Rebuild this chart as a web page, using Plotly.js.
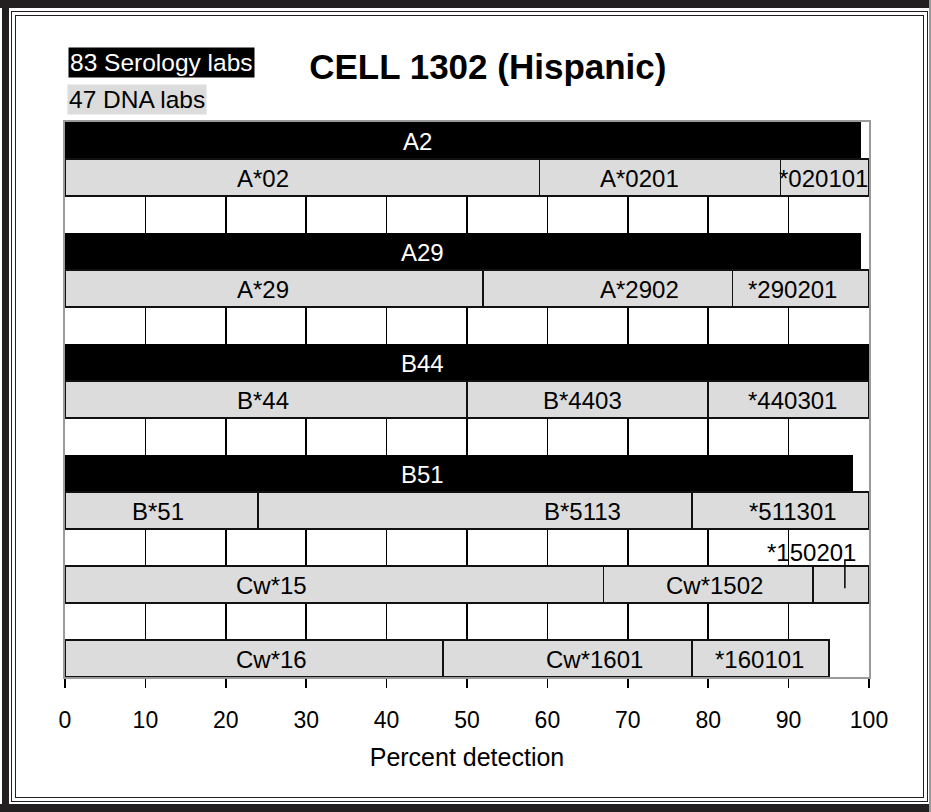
<!DOCTYPE html>
<html>
<head>
<meta charset="utf-8">
<script src="https://cdn.plot.ly/plotly-3.0.1.min.js"></script>
<style>
  html, body { margin: 0; padding: 0; background: #ffffff; }
  #wrap { position: relative; width: 931px; height: 812px; overflow: hidden; background: #ffffff; }
  .band { position: absolute; background: #231f20; }
  .rule { position: absolute; border: 1.5px solid #231f20; box-sizing: border-box; }
  #chart { position: absolute; left: 0; top: 0; width: 931px; height: 812px; }
</style>
</head>
<body>
<div id="wrap">
  <div class="band" style="left:0;top:0;width:931px;height:8px;"></div>
  <div class="band" style="left:2px;top:0;width:7px;height:812px;"></div>
  <div class="band" style="left:0;top:804px;width:931px;height:8px;"></div>
  <div class="band" style="left:929px;top:0;width:2px;height:812px;background:#9a9a9a;"></div>
  <div class="rule" style="left:11px;top:11px;width:917px;height:791px;"></div>
  <div class="rule" style="left:15px;top:15px;width:909px;height:783px;"></div>
  <div id="chart"></div>
</div>
<script>
// Row index on the category axis (top to bottom); gap rows are empty
var serologyRows   = [0, 3, 6, 9];
var serologyNames  = ['A2', 'A29', 'B44', 'B51'];
var serologyValues = [99, 99, 100, 98];          // 83 serology labs, percent detection

var dnaRows        = [1, 4, 7, 10, 12, 14];
var genericNames   = ['A*02', 'A*29', 'B*44', 'B*51', 'Cw*15', 'Cw*16'];
var genericValues  = [59, 52, 50, 24, 67, 47];
var alleleNames    = ['A*0201', 'A*2902', 'B*4403', 'B*5113', 'Cw*1502', 'Cw*1601'];
var alleleValues   = [30, 31, 30, 54, 26, 31];
var subNames       = ['*020101', '*290201', '*440301', '*511301', '*150201', '*160101'];
var subValues      = [11, 17, 20, 22, 7, 17];

var xTicks = [0, 10, 20, 30, 40, 50, 60, 70, 80, 90, 100];

// label placement (text positions along the x axis)
var serologyLabelX = [43.8, 44.5, 44.5, 44.5];
var genericLabelX  = [24.6, 24.6, 24.6, 11.6, 25.7, 25.7];
var alleleLabelX   = [71.5, 71.5, 64.4, 64.4, 80.8, 65.8];
var subLabelX      = [94.3, 90.5, 90.5, 90.5, 92.9, 86.4];

var FONT = 'Liberation Sans, Arial, Helvetica, sans-serif';
var GRAY = '#dcdcdc';
var OUT = '#111111';
var LABEL_SIZE = 24;

var traces = [
  {
    type: 'bar', orientation: 'h', y: serologyRows, x: serologyValues,
    marker: { color: '#000000', line: { width: 0 } },
    text: serologyNames, textposition: 'none', showlegend: false
  },
  {
    type: 'bar', orientation: 'h', y: dnaRows, x: genericValues,
    marker: { color: GRAY, line: { color: OUT, width: 1.6 } },
    text: genericNames, textposition: 'none', showlegend: false
  },
  {
    type: 'bar', orientation: 'h', y: dnaRows, x: alleleValues,
    marker: { color: GRAY, line: { color: OUT, width: 1.6 } },
    text: alleleNames, textposition: 'none', showlegend: false
  },
  {
    type: 'bar', orientation: 'h', y: dnaRows, x: subValues,
    marker: { color: GRAY, line: { color: OUT, width: 1.6 } },
    text: subNames, textposition: 'none', showlegend: false
  }
];

var annotations = [];
function addLabel(txt, x, y, color) {
  annotations.push({
    x: x, y: y, xref: 'x', yref: 'y', text: txt, showarrow: false,
    xanchor: 'center', yanchor: 'middle', yshift: -1,
    font: { family: FONT, size: LABEL_SIZE, color: color }
  });
}
serologyNames.forEach(function (n, i) { addLabel(n, serologyLabelX[i], serologyRows[i], '#ffffff'); });
genericNames.forEach(function (n, i) { addLabel(n, genericLabelX[i], dnaRows[i], '#000000'); });
alleleNames.forEach(function (n, i) { addLabel(n, alleleLabelX[i], dnaRows[i], '#000000'); });
subNames.forEach(function (n, i) {
  if (n === '*150201') {
    // label sits above its narrow segment, with a leader line
    var xEnd = genericValues[i] + alleleValues[i] + subValues[i];
    var xMid = xEnd - 3;
    annotations.push({
      x: subLabelX[i], y: dnaRows[i] - 1, xref: 'x', yref: 'y', text: n, showarrow: false,
      xanchor: 'center', yanchor: 'middle', yshift: -5,
      font: { family: FONT, size: LABEL_SIZE, color: '#000000' }
    });
    annotations.push({
      x: xMid, y: dnaRows[i] + 0.1, xref: 'x', yref: 'y', ax: xMid, ay: dnaRows[i] - 0.72,
      axref: 'x', ayref: 'y', text: '', showarrow: true, arrowhead: 0, arrowwidth: 1.5,
      arrowcolor: '#000000'
    });
  } else {
    addLabel(n, subLabelX[i], dnaRows[i], '#000000');
  }
});

// legend boxes
annotations.push({
  xref: 'paper', yref: 'paper', x: 0.0037, y: 1.136, xanchor: 'left', yanchor: 'top',
  text: '83 Serology labs', showarrow: false, bgcolor: '#000000', borderpad: 1,
  font: { family: FONT, size: 24.5, color: '#ffffff' }
});
annotations.push({
  xref: 'paper', yref: 'paper', x: 0.0025, y: 1.068, xanchor: 'left', yanchor: 'top',
  text: '47 DNA labs', showarrow: false, bgcolor: GRAY, borderpad: 1,
  font: { family: FONT, size: 24.5, color: '#000000' }
});

var layout = {
  width: 931, height: 812,
  margin: { l: 65, r: 62, t: 122, b: 135 },
  paper_bgcolor: 'rgba(0,0,0,0)',
  plot_bgcolor: '#ffffff',
  barmode: 'stack', bargap: 0,
  font: { family: FONT, color: '#000000' },
  title: {
    text: 'CELL 1302 (Hispanic)',
    xref: 'container', yref: 'container', x: 0.524, y: 0.918,
    xanchor: 'center', yanchor: 'middle',
    font: { family: FONT, size: 35, color: '#000000', weight: 'bold' }
  },
  xaxis: {
    range: [0, 100], tickvals: xTicks, ticktext: xTicks.map(String),
    showgrid: true, gridcolor: '#000000', gridwidth: 1.6,
    zeroline: false,
    showline: true, linecolor: '#9a9a9a', linewidth: 2, mirror: true,
    ticks: 'outside', ticklen: 9, tickwidth: 1.6, tickcolor: '#000000',
    tickfont: { family: FONT, size: 23, color: '#000000' },
    ticklabelstandoff: 12,
    layer: 'below traces',
    title: { text: 'Percent detection', font: { family: FONT, size: 25, color: '#000000' }, standoff: 17 },
    fixedrange: true
  },
  yaxis: {
    range: [14.5, -0.5], showticklabels: false, ticks: '', showgrid: false, zeroline: false,
    showline: true, linecolor: '#9a9a9a', linewidth: 2, mirror: true,
    layer: 'below traces', fixedrange: true
  },
  annotations: annotations
};

Plotly.newPlot('chart', traces, layout, { displayModeBar: false, staticPlot: true });
</script>
</body>
</html>
